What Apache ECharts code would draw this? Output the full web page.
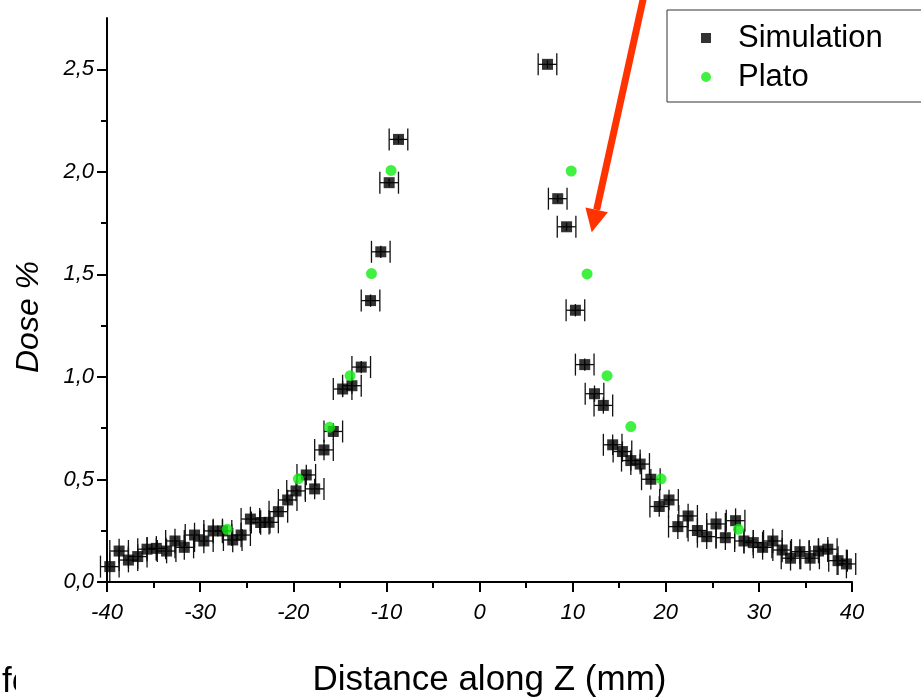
<!DOCTYPE html>
<html><head><meta charset="utf-8">
<script src="https://cdn.jsdelivr.net/npm/echarts@6/dist/echarts.min.js"></script>
<style>html,body{margin:0;padding:0;background:#fff}#chart{width:921px;height:700px}</style>
</head><body><div id="chart"></div>
<script>
// ---- data ----
const simX = [-39.7,-38.7,-37.7,-36.7,-35.7,-34.7,-33.6,-32.7,-31.7,-30.6,-29.6,-28.6,-27.6,-26.5,-25.6,-24.6,-23.5,-22.6,-21.6,-20.6,-19.7,-18.6,-17.7,-16.7,-15.7,-14.7,-13.7,-12.7,-11.7,-10.6,-9.7,-8.7,
  7.3,8.4,9.35,10.3,11.3,12.35,13.3,14.3,15.35,16.25,17.25,18.4,19.3,20.35,21.3,22.4,23.4,24.4,25.4,26.4,27.5,28.4,29.4,30.4,31.5,32.5,33.4,34.4,35.5,36.4,37.4,38.5,39.4];
const simY = [0.075,0.151,0.107,0.124,0.160,0.164,0.151,0.200,0.169,0.229,0.200,0.249,0.249,0.205,0.229,0.307,0.290,0.291,0.343,0.400,0.444,0.522,0.454,0.644,0.734,0.941,0.957,1.048,1.372,1.610,1.947,2.158,
  2.524,1.869,1.732,1.325,1.060,0.918,0.861,0.669,0.636,0.592,0.575,0.501,0.368,0.400,0.270,0.322,0.251,0.221,0.283,0.216,0.299,0.200,0.192,0.169,0.200,0.156,0.116,0.148,0.116,0.151,0.160,0.104,0.088];
const simYErr = [0.07,0.06,0.06,0.06,0.06,0.06,0.06,0.06,0.06,0.06,0.06,0.06,0.06,0.06,0.06,0.06,0.06,0.06,0.05,0.05,0.05,0.05,0.05,0.05,0.04,0.04,0.04,0.03,0.03,0.03,0.02,0.02,
  0.02,0.02,0.02,0.03,0.03,0.04,0.04,0.05,0.05,0.05,0.05,0.05,0.05,0.05,0.06,0.06,0.06,0.06,0.06,0.06,0.06,0.06,0.06,0.06,0.06,0.06,0.06,0.06,0.06,0.06,0.06,0.07,0.07];
const simXErr = 1.0; // half bin width (mm), same for every point
const platoX = [-27.1,-19.45,-16.1,-13.9,-11.6,-9.5,9.85,11.55,13.7,16.25,19.5,27.8];
const platoY = [0.257,0.503,0.755,1.006,1.504,2.007,2.004,1.502,1.006,0.758,0.503,0.257];
const yMajorTicks = [0,0.5,1.0,1.5,2.0,2.5];
const yMinorTicks = [0.25,0.75,1.25,1.75,2.25];
const arrowFrom = [17.66, 2.86];
const arrowTo = [12.05, 1.705];

const FONT = '"Liberation Sans", Arial, sans-serif';
const chart = echarts.init(document.getElementById('chart'));

const simData = simX.map((x, i) => [x, simY[i]]);
const errData = simX.map((x, i) => [x, simY[i], simXErr, simYErr[i]]);
const platoData = platoX.map((x, i) => [x, platoY[i]]);

const yFmt = v => v.toFixed(1).replace('.', ',');

chart.setOption({
  animation: false,
  backgroundColor: '#fff',
  grid: { left: 107, right: 69, top: 18, bottom: 118, containLabel: false, outerBoundsMode: 'none' },
  legend: {
    data: ['Simulation', 'Plato'], orient: 'vertical', left: 667, top: 10,
    padding: [11, 90, 8, 34], itemGap: 5, itemWidth: 10, itemHeight: 10,
    borderColor: '#333', borderWidth: 1, backgroundColor: '#fff', borderRadius: 0,
    selectedMode: false,
    textStyle: { fontFamily: FONT, fontSize: 31, color: '#000', lineHeight: 34, padding: [0, 0, 0, 22] }
  },
  xAxis: {
    type: 'value', min: -40, max: 40, interval: 10,
    name: 'Distance along Z (mm)', nameLocation: 'middle', nameGap: 81,
    nameTextStyle: { fontFamily: FONT, fontSize: 35, color: '#000', padding: [0, 0, 0, 20] },
    axisLine: { show: true, onZero: false, lineStyle: { color: '#000', width: 2 } },
    axisTick: { show: true, inside: false, length: 10, lineStyle: { color: '#000', width: 2 } },
    minorTick: { show: true, splitNumber: 2, length: 6, lineStyle: { color: '#000', width: 2 } },
    axisLabel: { margin: 20, fontFamily: FONT, fontSize: 22, fontStyle: 'italic', color: '#000' },
    splitLine: { show: false }
  },
  yAxis: [{
    type: 'value', min: 0, max: 2.75, interval: 0.5,
    name: 'Dose %', nameLocation: 'middle', nameGap: 62,
    nameTextStyle: { fontFamily: FONT, fontSize: 32, fontStyle: 'italic', color: '#000', padding: [0, 34, 0, 0] },
    axisLine: { show: true, onZero: false, lineStyle: { color: '#000', width: 2 } },
    axisTick: { show: true, inside: false, length: 10, customValues: yMajorTicks, lineStyle: { color: '#000', width: 2 } },
    axisLabel: { margin: 13, fontFamily: FONT, fontSize: 22, fontStyle: 'italic', color: '#000',
      customValues: yMajorTicks, formatter: v => (v > 2.6 ? '' : yFmt(v)) },
    splitLine: { show: false }
  }, {
    type: 'value', min: 0, max: 2.75, position: 'left', offset: 0,
    axisLine: { show: false, onZero: false },
    axisTick: { show: true, inside: false, length: 6, customValues: yMinorTicks, lineStyle: { color: '#000', width: 2 } },
    axisLabel: { show: false },
    splitLine: { show: false }
  }],
  series: [{
    name: 'errors', type: 'custom', xAxisIndex: 0, yAxisIndex: 0, z: 2, clip: false,
    data: errData, encode: { x: 0, y: 1 },
    renderItem: (params, api) => {
      const x = api.value(0), y = api.value(1), xe = api.value(2), ye = api.value(3);
      const pL = api.coord([x - xe, y]), pR = api.coord([x + xe, y]);
      const pT = api.coord([x, y + ye]), pB = api.coord([x, y - ye]);
      const cap = 11;
      const style = { stroke: '#111', lineWidth: 1.3 };
      return { type: 'group', children: [
        { type: 'line', shape: { x1: pL[0], y1: pL[1], x2: pR[0], y2: pR[1] }, style },
        { type: 'line', shape: { x1: pL[0], y1: pL[1] - cap, x2: pL[0], y2: pL[1] + cap }, style },
        { type: 'line', shape: { x1: pR[0], y1: pR[1] - cap, x2: pR[0], y2: pR[1] + cap }, style },
        { type: 'line', shape: { x1: pT[0], y1: pT[1], x2: pB[0], y2: pB[1] }, style }
      ] };
    }
  }, {
    name: 'Simulation', type: 'scatter', z: 3, data: simData,
    symbol: 'rect', symbolSize: 11, itemStyle: { color: '#000' }
  }, {
    name: 'Plato', type: 'scatter', z: 4, data: platoData,
    symbol: 'circle', symbolSize: 11, itemStyle: { color: '#11ee11' }
  }]
});

// red annotation arrow, anchored in data coordinates
const a = chart.convertToPixel({ gridIndex: 0 }, arrowFrom);
const b = chart.convertToPixel({ gridIndex: 0 }, arrowTo);
const dx = b[0] - a[0], dy = b[1] - a[1], L = Math.hypot(dx, dy);
const ux = dx / L, uy = dy / L, px = -uy, py = ux;
const headLen = 23, headHalf = 11.5, shaftHalf = 3.5;
const bc = [b[0] - ux * headLen, b[1] - uy * headLen];
chart.setOption({
  graphic: [
    { type: 'polygon', z: 10, shape: { points: [
      [a[0] + px * shaftHalf, a[1] + py * shaftHalf], [bc[0] + px * shaftHalf, bc[1] + py * shaftHalf],
      [bc[0] - px * shaftHalf, bc[1] - py * shaftHalf], [a[0] - px * shaftHalf, a[1] - py * shaftHalf]] },
      style: { fill: '#ff3300' } },
    { type: 'polygon', z: 10, shape: { points: [
      [b[0], b[1]], [bc[0] + px * headHalf, bc[1] + py * headHalf], [bc[0] - px * headHalf, bc[1] - py * headHalf]] },
      style: { fill: '#ff3300' } },
    { type: 'text', z: 10, style: { text: 'fo', x: 2, y: 700, verticalAlign: 'bottom', font: '35px ' + FONT, fill: '#000' } },
    { type: 'rect', z: 11, shape: { x: 16, y: 655, width: 50, height: 45 }, style: { fill: '#fff' } }
  ]
});
</script></body></html>
